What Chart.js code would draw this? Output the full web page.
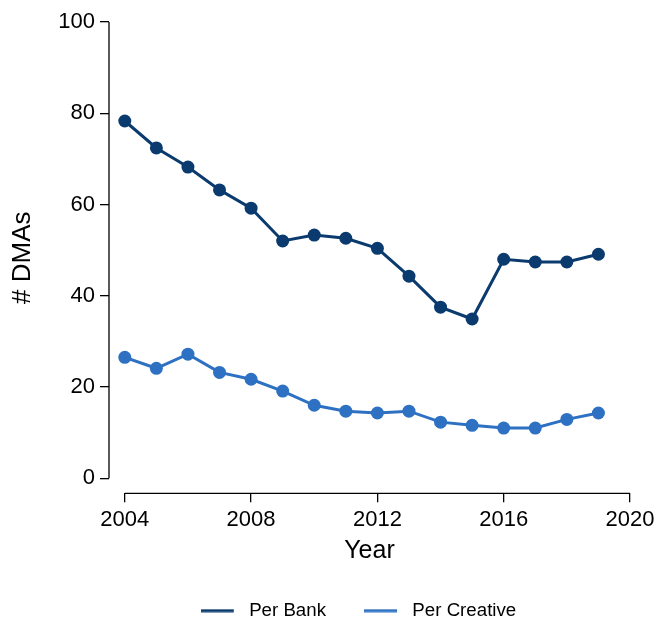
<!DOCTYPE html>
<html>
<head>
<meta charset="utf-8">
<script src="https://cdn.jsdelivr.net/npm/chart.js@4/dist/chart.umd.min.js"></script>
<style>
  html, body { margin: 0; padding: 0; background: #ffffff; }
  #wrap { width: 660px; height: 621px; }
</style>
</head>
<body>
<div id="wrap"><canvas id="c" width="660" height="621"></canvas></div>
<script>
// Years covered and the two series
const years = [2004, 2005, 2006, 2007, 2008, 2009, 2010, 2011, 2012, 2013, 2014, 2015, 2016, 2017, 2018, 2019];
const perBank = [78.3, 72.4, 68.2, 63.2, 59.2, 52.0, 53.3, 52.6, 50.4, 44.3, 37.5, 34.9, 48.0, 47.4, 47.4, 49.1];
const perCreative = [26.5, 24.1, 27.2, 23.2, 21.7, 19.1, 16.0, 14.7, 14.3, 14.7, 12.3, 11.6, 11.0, 11.0, 12.9, 14.3];

// Axis ticks
const xTicks = [2004, 2008, 2012, 2016, 2020];
const yTicks = [0, 20, 40, 60, 80, 100];

const BANK_COLOR = '#0a3a6e';
const CREATIVE_COLOR = '#2e71c3';
const FONT = "'Liberation Sans', Arial, Helvetica, sans-serif";

function toPoints(vals) {
  return years.map((y, i) => ({ x: y, y: vals[i] }));
}

// Legend key: a short line segment followed by a little blank space
const KEY_W = 39, KEY_LINE = 33, KEY_H = 4;
function lineKey(color) {
  const cv = document.createElement('canvas');
  cv.width = KEY_W;
  cv.height = KEY_H;
  const g = cv.getContext('2d');
  g.fillStyle = color;
  g.fillRect(0, 0.5, KEY_LINE, 3);
  return cv;
}

// Axis lines drawn only over the tick range, detached at the corner
const axisLines = {
  id: 'axisLines',
  afterDraw(chart) {
    const { ctx, chartArea, scales } = chart;
    const xs = scales.x, ys = scales.y;
    ctx.save();
    ctx.strokeStyle = '#000';
    ctx.lineWidth = 1.3;
    ctx.beginPath();
    ctx.moveTo(chartArea.left, ys.getPixelForValue(yTicks[0]));
    ctx.lineTo(chartArea.left, ys.getPixelForValue(yTicks[yTicks.length - 1]));
    ctx.moveTo(xs.getPixelForValue(xTicks[0]), chartArea.bottom);
    ctx.lineTo(xs.getPixelForValue(xTicks[xTicks.length - 1]), chartArea.bottom);
    ctx.stroke();
    ctx.restore();
  }
};

// Nudge the legend a little left of the plot-area centre
const legendShift = {
  id: 'legendShift',
  afterLayout(chart) {
    if (chart.legend) {
      chart.legend.left -= 11;
      chart.legend.right -= 11;
    }
  }
};

new Chart(document.getElementById('c'), {
  type: 'line',
  data: {
    datasets: [
      {
        label: 'Per Bank',
        data: toPoints(perBank),
        borderColor: BANK_COLOR,
        backgroundColor: BANK_COLOR,
        pointBackgroundColor: BANK_COLOR,
        pointBorderColor: BANK_COLOR,
        borderWidth: 3,
        pointRadius: 6.5,
        pointBorderWidth: 0,
        tension: 0,
        clip: false
      },
      {
        label: 'Per Creative',
        data: toPoints(perCreative),
        borderColor: CREATIVE_COLOR,
        backgroundColor: CREATIVE_COLOR,
        pointBackgroundColor: CREATIVE_COLOR,
        pointBorderColor: CREATIVE_COLOR,
        borderWidth: 3,
        pointRadius: 6.5,
        pointBorderWidth: 0,
        tension: 0,
        clip: false
      }
    ]
  },
  options: {
    responsive: false,
    animation: false,
    devicePixelRatio: 1,
    layout: { padding: { top: 22, right: 30, left: 0, bottom: -9 } },
    plugins: {
      tooltip: { enabled: false },
      legend: {
        position: 'bottom',
        fullSize: false,
        labels: {
          font: { family: FONT, size: 18.7 },
          color: '#000',
          usePointStyle: true,
          pointStyleWidth: KEY_W,
          padding: 38,
          generateLabels(chart) {
            return chart.data.datasets.map((ds, i) => ({
              text: ds.label,
              pointStyle: lineKey(ds.borderColor),
              fillStyle: ds.borderColor,
              strokeStyle: ds.borderColor,
              lineWidth: 0,
              fontColor: '#000',
              hidden: false,
              datasetIndex: i
            }));
          }
        }
      }
    },
    scales: {
      x: {
        type: 'linear',
        min: 2003.5,
        max: 2020,
        afterBuildTicks(scale) { scale.ticks = xTicks.map(v => ({ value: v })); },
        afterFit(scale) { scale.height = 70; },
        border: { display: false },
        grid: { drawOnChartArea: false, drawTicks: true, tickLength: 9, color: '#000', lineWidth: 1.3 },
        ticks: {
          color: '#000',
          font: { family: FONT, size: 22 },
          padding: 4,
          maxRotation: 0,
          callback: v => String(v)
        },
        title: {
          display: true,
          text: 'Year',
          color: '#000',
          font: { family: FONT, size: 25 },
          padding: { top: 0, bottom: -3 }
        }
      },
      y: {
        type: 'linear',
        min: -3.3,
        max: 100,
        afterBuildTicks(scale) { scale.ticks = yTicks.map(v => ({ value: v })); },
        afterFit(scale) { scale.width = 109; },
        border: { display: false },
        grid: { drawOnChartArea: false, drawTicks: true, tickLength: 9, color: '#000', lineWidth: 1.3 },
        ticks: {
          color: '#000',
          font: { family: FONT, size: 22 },
          padding: 5,
          callback: v => String(v)
        },
        title: {
          display: true,
          text: '# DMAs',
          color: '#000',
          font: { family: FONT, size: 26 },
          padding: { top: 7, bottom: 0 }
        }
      }
    }
  },
  plugins: [axisLines, legendShift]
});
</script>
</body>
</html>
